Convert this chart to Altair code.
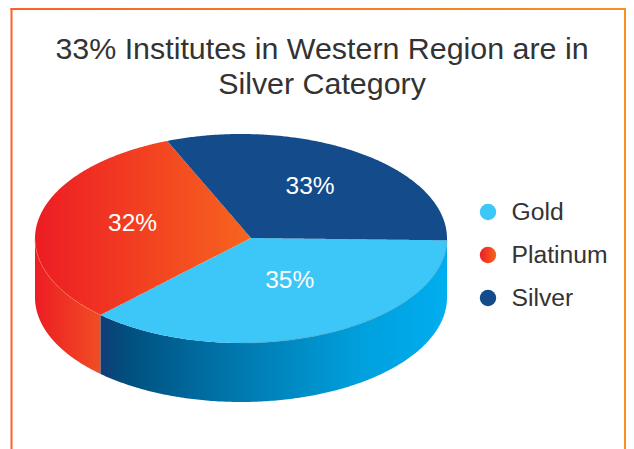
import numpy as np
import pandas as pd
import altair as alt

categories = ["Gold", "Platinum", "Silver"]
shares = [35, 32, 33]
labels = ["35%", "32%", "33%"]
title_lines = ["33% Institutes in Western Region are in", "Silver Category"]

FONT = "Liberation Sans"
# picture geometry of the tilted disc
CX, CY, RX, RY = 241.0, 238.5, 206.0, 104.5
AX, AY = 251.0, 238.0   # apex of the slices (perspective shift)
DEPTH = 59.0
label_radius = [0.455, 0.59, 0.566]
label_turn = [0.0, 0.0, -3.8]


def warp(theta):
    """Perspective warp from a share angle to the angle on the drawn rim."""
    a = np.radians(theta)
    return 1 + theta + 4.153 * (1 - np.cos(a)) - 0.736 * np.sin(a)


def rim(deg):
    a = np.radians(deg)
    return CX + RX * np.cos(a), CY + RY * np.sin(a)


def wedge(a0, a1):
    ang = np.linspace(a0, a1, 240)
    rx, ry = rim(ang)
    px = np.r_[AX, rx]
    py = np.r_[AY, ry]
    xs = np.unique(np.round(px, 3))
    rows = []
    n = len(px)
    for x in xs:
        ys = []
        for i in range(n):
            j = (i + 1) % n
            x0, x1, y0, y1 = px[i], px[j], py[i], py[j]
            if min(x0, x1) - 1e-3 <= x <= max(x0, x1) + 1e-3:
                if abs(x1 - x0) < 1e-9:
                    ys += [y0, y1]
                else:
                    t = np.clip((x - x0) / (x1 - x0), 0, 1)
                    ys.append(y0 + t * (y1 - y0))
        rows.append({"x": x, "y": min(ys), "y2": max(ys)})
    return pd.DataFrame(rows)


def wall(a0, a1):
    ang = np.linspace(a0, a1, 200)
    x, y = rim(ang)
    return pd.DataFrame({"x": x, "y": y, "y2": y + DEPTH}).sort_values("x")


def grad(*stops, vertical=False):
    return alt.Gradient(
        gradient="linear",
        stops=[alt.GradientStop(offset=o, color=c) for o, c in stops],
        x1=0, x2=0 if vertical else 1, y1=0, y2=1 if vertical else 0,
    )


cum = np.cumsum([0] + shares) / sum(shares) * 360.0
edges = [float(warp(t)) for t in cum]   # gold start, gold/platinum, platinum/silver, end

xscale = alt.Scale(domain=[8, 626], nice=False, zero=False)
X = alt.X("x:Q", axis=None, scale=xscale)
Y = alt.Y("y:Q", axis=None, scale=alt.Scale(domain=[449, 8], nice=False, zero=False))

layers = []

# frame
frame = [
    (10.5, 12.5, 8, 449, "#F9622B"),
    (624, 626, 8, 449, "#F7901E"),
]
for x0, x1, y0, y1, c in frame:
    layers.append(
        alt.Chart(pd.DataFrame({"x": [x0], "x2": [x1], "y": [y0], "y2": [y1]}))
        .mark_rect(color=c)
        .encode(x=X, x2="x2:Q", y=Y, y2="y2:Q")
    )
layers.append(
    alt.Chart(pd.DataFrame({"x": [10.5], "x2": [626], "y": [8], "y2": [10]}))
    .mark_rect(color=grad((0, "#F9622B"), (1, "#F7901E")))
    .encode(x=X, x2="x2:Q", y=Y, y2="y2:Q")
)

# side walls
gold_wall = wall(0, edges[1])
plat_wall = wall(edges[1], 180)
layers.append(
    alt.Chart(plat_wall)
    .mark_area(color=grad((0, "#ED1C24"), (1, "#F04E23")))
    .encode(x=X, y=Y, y2="y2:Q")
)
layers.append(
    alt.Chart(gold_wall)
    .mark_area(color=grad((0, "#123D74"), (0.08, "#00507F"), (0.35, "#0073A8"), (0.75, "#00A0DD"), (1, "#00AEEF")))
    .encode(x=X, y=Y, y2="y2:Q")
)

# top faces
tops = [
    (wedge(edges[0], edges[1]), "#3DC6F8"),
    (wedge(edges[1], edges[2]), grad((0, "#ED1C24"), (1, "#F7651E"))),
    (wedge(edges[2], edges[3]), "#134B8B"),
]
for df, c in tops:
    layers.append(alt.Chart(df).mark_area(color=c).encode(x=X, y=Y, y2="y2:Q"))

# thin seams on the rim
seam_gold = wall(edges[0], 90)[["x", "y"]]
seam_plat = wall(edges[1], 180)[["x", "y"]]
layers.append(alt.Chart(seam_gold).mark_line(color="#4E9DB8", strokeWidth=0.6).encode(x=X, y=Y))
layers.append(alt.Chart(seam_plat).mark_line(color="#F58A5A", strokeWidth=0.5).encode(x=X, y=Y))

# slice labels
mids = (cum[:-1] + cum[1:]) / 2
lab_ang = [np.radians(warp(m) + t) for m, t in zip(mids, label_turn)]
lab = pd.DataFrame({
    "x": [AX + r * RX * np.cos(a) for r, a in zip(label_radius, lab_ang)],
    "y": [AY + r * RY * np.sin(a) for r, a in zip(label_radius, lab_ang)],
    "t": labels,
})
layers.append(
    alt.Chart(lab)
    .mark_text(font=FONT, fontSize=24.5, color="white", align="center", baseline="middle")
    .encode(x=X, y=Y, text="t:N")
)

# legend built from the categories
leg_y = [212 + 43 * i for i in range(len(categories))]
leg_fill = ["#3DC6F8", grad((0, "#ED1C24"), (1, "#F7651E")), "#134B8B"]
for cat, ly, f in zip(categories, leg_y, leg_fill):
    row = pd.DataFrame({"x": [488], "y": [ly], "xt": [511.5], "t": [cat]})
    layers.append(
        alt.Chart(row)
        .mark_point(filled=True, shape="circle", size=270, fill=f, opacity=1, strokeOpacity=0)
        .encode(x=X, y=Y)
    )
    layers.append(
        alt.Chart(row)
        .mark_text(font=FONT, fontSize=24.7, color="#333333", align="left", baseline="middle", dy=1)
        .encode(x=alt.X("xt:Q", axis=None, scale=xscale), y=Y, text="t:N")
    )

chart = (
    alt.layer(*layers)
    .properties(
        width=618,
        height=441,
        padding=0,
        autosize=alt.AutoSizeParams(type="none"),
        background="white",
        title=alt.TitleParams(
            text=title_lines,
            font=FONT,
            fontSize=30.4,
            fontWeight="normal",
            color="#333333",
            lineHeight=35,
            anchor="middle",
            baseline="alphabetic",
            offset=0,
            dx=5,
            dy=116,
        ),
    )
    .configure_view(stroke=None)
)

chart.save("out.html", embed_options={"renderer": "svg", "actions": False})
